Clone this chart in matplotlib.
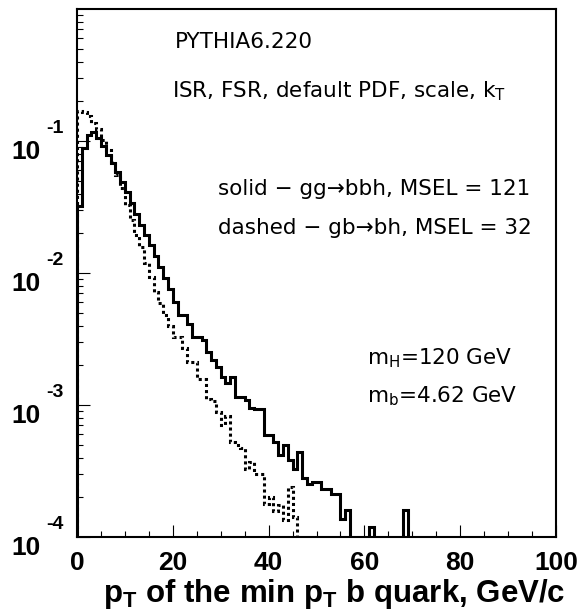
import numpy as np
import matplotlib
matplotlib.use("Agg")
import matplotlib.pyplot as plt
from matplotlib.ticker import FixedLocator, NullFormatter

# bin edges, 1 GeV wide, 0..100
edges = np.arange(0, 101, 1)

# solid: gg -> bbh (MSEL=121), per-bin fractions
solid_vals = [0.032, 0.089, 0.112, 0.117, 0.105, 0.091, 0.079, 0.068, 0.058, 0.049,
              0.041, 0.034, 0.028, 0.023, 0.0195, 0.0162, 0.0135, 0.0112, 0.0091, 0.0076,
              0.0060, 0.0048, 0.0048, 0.0041, 0.0033, 0.0033, 0.0031, 0.0025, 0.0022, 0.00195,
              0.00162, 0.00148, 0.00162, 0.00115, 0.00115, 0.00110, 0.00095, 0.00093, 0.00093, 0.00059,
              0.00059, 0.00052, 0.00042, 0.00050, 0.00038, 0.00033, 0.00044, 0.00028, 0.00025, 0.00026,
              0.00026, 0.00023, 0.00023, 0.00021, 0.00021, 0.000138, 0.00016, 0, 0, 0,
              0, 0.00012, 0, 0, 0, 0, 0, 0, 0.00016, 0]

# dashed: gb -> bh (MSEL=32)
dashed_vals = [0.170, 0.165, 0.155, 0.138, 0.123, 0.102, 0.085, 0.069, 0.055, 0.044,
               0.033, 0.025, 0.0195, 0.0158, 0.0120, 0.0093, 0.0072, 0.0059, 0.0048, 0.0040,
               0.0033, 0.0033, 0.0027, 0.0021, 0.0021, 0.00158, 0.00158, 0.00112, 0.00107, 0.00089,
               0.00071, 0.00083, 0.00052, 0.00050, 0.00047, 0.00033, 0.00037, 0.00030, 0.00030, 0.000178,
               0.000200, 0.000158, 0.000174, 0.000135, 0.00024, 0.000141, 0]

xticks = [0, 20, 40, 60, 80, 100]
yticks = [1e-4, 1e-3, 1e-2, 1e-1]
yexp = ["-4", "-3", "-2", "-1"]


def full(v):
    a = np.zeros(len(edges) - 1)
    a[:len(v)] = v
    a[a <= 0] = 1e-7  # empty bins sit below the axis
    return a


fig = plt.figure(figsize=(5.77, 6.13), dpi=100)
ax = fig.add_axes([77/577, 76/613, 479/577, 528/613])

ax.stairs(full(solid_vals), edges, baseline=1e-7, color="black", lw=2.2)
ax.stairs(full(dashed_vals), edges, baseline=1e-7, color="black", lw=2.2,
          linestyle=(0, (1.0, 1.0)))

ax.set_yscale("log")
ax.set_xlim(0, 100)
ax.set_ylim(1e-4, 1)

for s in ax.spines.values():
    s.set_linewidth(1.5)

ax.set_xticks(xticks)
ax.xaxis.set_minor_locator(FixedLocator(np.arange(0, 101, 5)))
ax.set_xticklabels([str(t) for t in xticks], fontsize=19, fontweight="bold",
                   family="Liberation Sans")
ax.tick_params(axis="x", which="major", direction="in", length=9, width=0.8, pad=10)
ax.tick_params(axis="x", which="minor", direction="in", length=4.5, width=0.8)

ax.set_yticks(yticks)
ax.yaxis.set_minor_locator(FixedLocator(
    [m * 10.0**e for e in range(-4, 0) for m in range(2, 10)]))
ax.yaxis.set_major_formatter(NullFormatter())
ax.yaxis.set_minor_formatter(NullFormatter())
ax.tick_params(axis="y", which="major", direction="in", length=9, width=0.8)
ax.tick_params(axis="y", which="minor", direction="in", length=4.5, width=0.8)

# ROOT-style 10^n labels
for t, e in zip(yticks, yexp):
    ax.annotate("10", xy=(0, t), xycoords=("axes fraction", "data"),
                xytext=(-26, -8), textcoords="offset points", ha="right", va="center",
                fontsize=19, fontweight="bold", family="Liberation Sans")
    ax.annotate(e, xy=(0, t), xycoords=("axes fraction", "data"),
                xytext=(-22, 9), textcoords="offset points", ha="left", va="center",
                fontsize=14, fontweight="bold", family="Liberation Sans")

ax.set_xlabel(r"p$_\mathregular{T}$ of the min p$_\mathregular{T}$ b quark, GeV/c",
              fontsize=22.5, fontweight="bold", family="Liberation Sans", ha="right")
ax.xaxis.set_label_coords(1.019, -0.076)

txt = dict(transform=ax.transAxes, ha="left", va="center", color="black", family="DejaVu Sans")
ax.text(0.205, 0.9375, "PYTHIA6.220", fontsize=15.5, **txt)
ax.text(0.198, 0.845, r"ISR, FSR, default PDF, scale, k$_\mathregular{T}$", fontsize=15.5, **txt)
ax.text(0.294, 0.659, "solid \u2212 gg\u2192bbh, MSEL = 121", fontsize=15.5, **txt)
ax.text(0.294, 0.585, "dashed \u2212 gb\u2192bh, MSEL = 32", fontsize=15.5, **txt)
ax.text(0.605, 0.339, r"m$_\mathregular{H}$=120 GeV", fontsize=15.5, **txt)
ax.text(0.605, 0.267, r"m$_\mathregular{b}$=4.62 GeV", fontsize=15.5, **txt)

fig.savefig("out.png", dpi=100)
